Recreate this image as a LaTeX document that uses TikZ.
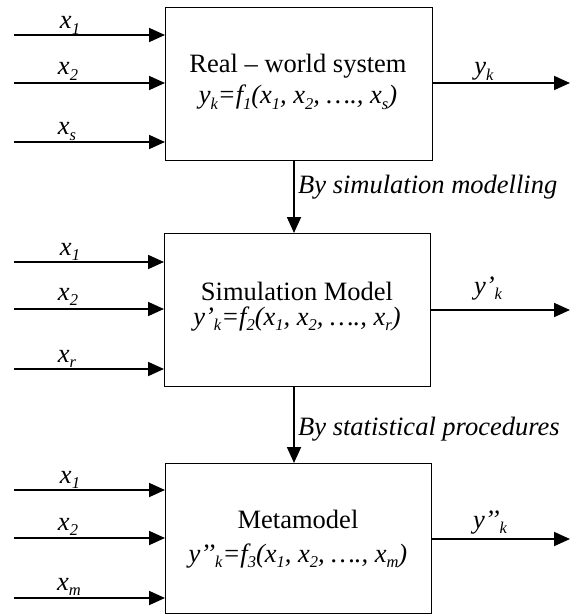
\documentclass[tikz,border=0pt]{standalone}
\usepackage{fontspec}
\setmainfont{Liberation Serif}
\usetikzlibrary{arrows.meta}
\newcommand{\lsub}[1]{\raisebox{-0.22em}{\fontsize{16.5}{16.5}\selectfont #1}}
\begin{document}
\begin{tikzpicture}[x=1pt,y=-1pt,
  box/.style={draw, line width=1.3pt, inner sep=0pt, anchor=north west},
  arr/.style={line width=1.8pt, -{Triangle[length=16pt,width=14pt]}},
  txt/.style={font=\fontsize{26.5}{30}\selectfont, anchor=base, inner sep=0pt},
  lbl/.style={font=\fontsize{26.5}{30}\selectfont\itshape, anchor=base, inner sep=0pt},
  lblw/.style={lbl, anchor=base west},
]
\useasboundingbox (0,0) rectangle (571,615);

% boxes
\node[box, minimum width=267pt, minimum height=153pt] (b1) at (165,7) {};
\node[box, minimum width=266pt, minimum height=153pt] (b2) at (164,233) {};
\node[box, minimum width=266pt, minimum height=150pt] (b3) at (165,463) {};

% box texts
\node[txt] (t1) at (298,73) {Real – world system};
\node[lbl] (f1) at (298,104) {y\lsub{k}=f\lsub{1}(x\lsub{1}, x\lsub{2}, …., x\lsub{s})};
\node[txt] (t2) at (297,300) {Simulation Model};
\node[lbl] (f2) at (297,325) {y’\lsub{k}=f\lsub{2}(x\lsub{1}, x\lsub{2}, …., x\lsub{r})};
\node[txt] (t3) at (298,528) {Metamodel};
\node[lbl] (f3) at (298,562) {y’’\lsub{k}=f\lsub{3}(x\lsub{1}, x\lsub{2}, …., x\lsub{m})};

% input start coordinates
\coordinate (i11) at (14,35);
\coordinate (i12) at (14,83);
\coordinate (i13) at (14,142);
\coordinate (i21) at (14,262);
\coordinate (i22) at (14,309);
\coordinate (i23) at (14,369);
\coordinate (i31) at (14,490);
\coordinate (i32) at (14,538);
\coordinate (i33) at (14,598);

\draw[arr] (i11) -- (i11 -| b1.west);
\draw[arr] (i12) -- (i12 -| b1.west);
\draw[arr] (i13) -- (i13 -| b1.west);
\draw[arr] (i21) -- (i21 -| b2.west);
\draw[arr] (i22) -- (i22 -| b2.west);
\draw[arr] (i23) -- (i23 -| b2.west);
\draw[arr] (i31) -- (i31 -| b3.west);
\draw[arr] (i32) -- (i32 -| b3.west);
\draw[arr] (i33) -- (i33 -| b3.west);

% input labels
\node[lbl] (l11) at (70,29) {x\lsub{1}};
\node[lbl] (l12) at (68,75) {x\lsub{2}};
\node[lbl] (l13) at (67,135) {x\lsub{s}};
\node[lbl] (l21) at (70,255) {x\lsub{1}};
\node[lbl] (l22) at (68,300) {x\lsub{2}};
\node[lbl] (l23) at (67,362) {x\lsub{r}};
\node[lbl] (l31) at (70,483) {x\lsub{1}};
\node[lbl] (l32) at (68,530) {x\lsub{2}};
\node[lbl] (l33) at (69,590) {x\lsub{m}};

% outputs
\coordinate (o1) at (570,83);
\coordinate (o2) at (570,310);
\coordinate (o3) at (570,539);
\draw[arr] (o1 -| b1.east) -- (o1);
\draw[arr] (o2 -| b2.east) -- (o2);
\draw[arr] (o3 -| b3.east) -- (o3);
\node[lbl] (ly1) at (484,75) {y\lsub{k}};
\node[lbl] (ly2) at (488,294) {y’\lsub{k}};
\node[lbl] (ly3) at (490,528) {y’’\lsub{k}};

% vertical arrows
\coordinate (v) at (294,0);
\draw[arr] (b1.south -| v) -- (b2.north -| v);
\draw[arr] (b2.south -| v) -- (b3.north -| v);
\node[lblw] (m1) at (298,193) {By simulation modelling};
\node[lblw] (m2) at (298,435) {By statistical procedures};
\end{tikzpicture}
\end{document}
